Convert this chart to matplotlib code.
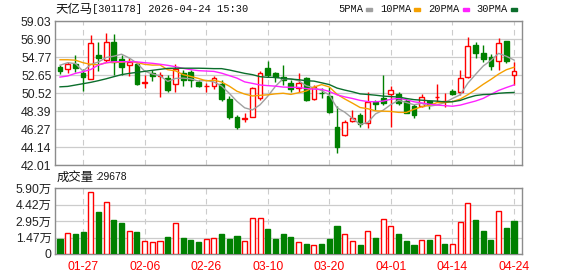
import matplotlib
matplotlib.use('Agg')
import matplotlib.pyplot as plt
from matplotlib.patches import Rectangle
import numpy as np
import pandas as pd

plt.rcParams['font.family'] = ['Liberation Sans', 'Noto Sans CJK SC']

################################################################################
# data
################################################################################

stock_name = '天亿马'
stock_info = '[301178] 2026-04-24 15:30'
date_labels = ['01-27', '02-06', '02-26', '03-10', '03-20', '04-01', '04-14', '04-24']
date_idx = [3, 11, 19, 27, 35, 43, 51, 59]

opens = [53.56, 53.36, 53.95, 52.84, 52.14, 55.01, 54.42, 56.59, 54.50, 53.83,
         53.91, 51.66, 52.84, 52.50, 52.33, 51.58, 52.84, 53.00, 51.82, 51.32,
         51.35, 51.58, 49.81, 47.64, 47.49, 47.72, 49.89, 53.51, 52.84, 52.37,
         51.74, 51.07, 52.25, 49.77, 50.56, 50.17, 46.54, 45.56, 47.21, 47.92,
         46.94, 49.40, 49.89, 50.40, 50.40, 49.55, 48.98, 48.98, 49.57, 50.05,
         49.55, 50.76, 50.68, 52.45, 56.19, 55.21, 54.81, 54.34, 56.67, 52.61]
highs = [53.83, 54.22, 55.01, 53.32, 57.38, 56.59, 57.57, 57.49, 55.01, 54.62,
         54.22, 52.65, 53.24, 53.04, 52.65, 53.95, 53.24, 53.24, 52.06, 51.66,
         52.53, 52.06, 50.17, 47.92, 48.12, 51.27, 53.16, 54.34, 53.04, 53.83,
         52.06, 52.84, 52.45, 51.47, 51.07, 51.27, 48.98, 47.33, 48.51, 48.12,
         50.68, 49.69, 52.65, 51.35, 50.68, 49.80, 49.22, 50.40, 49.69, 51.58,
         50.56, 50.95, 53.24, 57.10, 56.59, 56.19, 55.13, 56.98, 56.67, 54.22]
lows = [52.80, 52.85, 53.04, 50.80, 52.14, 53.16, 54.22, 52.65, 52.65, 52.53,
        51.47, 51.07, 51.98, 50.09, 50.68, 50.68, 51.35, 51.27, 51.27, 50.68,
        50.95, 49.61, 47.41, 46.23, 47.13, 47.64, 49.69, 52.45, 51.86, 51.47,
        50.68, 50.68, 49.61, 49.69, 49.89, 48.20, 43.47, 45.44, 47.13, 46.54,
        46.34, 48.51, 49.10, 46.54, 49.10, 48.10, 47.53, 48.90, 48.59, 49.50,
        48.90, 50.28, 50.28, 52.25, 54.62, 54.22, 53.24, 53.24, 54.03, 51.47]
closes = [53.16, 53.95, 53.44, 52.45, 56.47, 54.62, 56.59, 54.22, 53.63, 54.22,
          51.58, 51.86, 52.53, 52.60, 50.87, 53.32, 52.10, 52.02, 51.30, 51.36,
          52.33, 49.77, 47.64, 46.54, 47.56, 51.07, 52.84, 52.65, 52.45, 52.06,
          50.95, 51.74, 49.69, 51.19, 50.48, 48.31, 44.18, 47.13, 47.52, 46.86,
          49.50, 49.25, 49.30, 50.87, 49.38, 48.20, 47.92, 50.09, 49.22, 50.09,
          49.60, 50.36, 52.25, 56.07, 55.29, 54.58, 53.71, 56.39, 54.34, 53.08]
volumes = [13500, 18500, 17900, 19700, 55600, 37400, 46800, 30300, 27600, 20300,
           19700, 11800, 10900, 11800, 15300, 27400, 14400, 12600, 10300, 13200,
           14100, 18200, 13500, 16500, 11800, 31800, 31800, 22400, 13500, 18200,
           15300, 10900, 9100, 8000, 9100, 13500, 25000, 17600, 11500, 8200,
           21000, 14100, 31000, 25000, 18000, 11800, 8200, 12400, 12600, 16800,
           9100, 8800, 28200, 45900, 30300, 20300, 12600, 38800, 23200, 29678]

# moving average values before a full window exists
ma5_head = [53.80, 54.10, 54.00, 53.10]
ma10_head = [54.45, 54.45, 54.40, 54.10, 53.90, 53.85, 54.10, 54.15, 54.15]
ma20_head = [52.40, 52.53, 52.84, 53.04, 53.30, 53.83, 54.10, 54.22, 54.22, 54.22,
             54.20, 54.10, 54.03, 53.92, 53.79, 53.63, 53.43, 53.28, 53.16]
ma30_head = [51.25, 51.30, 51.46, 51.62, 51.78, 51.98, 52.20, 52.45, 52.69, 52.84,
             52.96, 53.08, 53.20, 53.32, 53.43, 53.45, 53.45, 53.45, 53.45, 53.43,
             53.40, 53.40, 53.24, 53.04, 52.84, 52.69, 52.45, 52.37, 52.37]

price_min, price_max = 42.01, 59.03
vol_max = 58980

################################################################################

def moving_average(n, head):
    ma = pd.Series(closes).rolling(n).mean().to_numpy()
    ma[:len(head)] = head
    return ma

o = np.array(opens)
c = np.array(closes)
h = np.array(highs)
l = np.array(lows)
x = np.arange(len(c))

up = c >= o
cand_col = np.where(up, '#ff0000', '#008000')
prev = np.r_[o[0], c[:-1]]
vol_up = c >= prev
vol_col = np.where(vol_up, '#ff0000', '#008000')

W, H = 578, 276
fig = plt.figure(figsize=(W / 100, H / 100), dpi=100)
ax = fig.add_axes([55 / W, 1 - 165 / H, 467 / W, 144 / H])
axv = fig.add_axes([55 / W, 1 - 254 / H, 467 / W, 66 / H])

for a in (ax, axv):
    a.set_xlim(-0.65, len(c) + 0.04)
    a.set_xticks(date_idx)
    a.xaxis.grid(True, color='#cccccc', lw=0.8, ls=(0, (5, 4)))
    a.yaxis.grid(True, color='#cccccc', lw=0.9)
    a.set_axisbelow(True)
    a.tick_params(length=0, labelsize=8.8, colors='#222222')
    for s in a.spines.values():
        s.set_color('#8c8c8c')
        s.set_linewidth(1)

# candles
ax.vlines(x, l, h, colors=cand_col, lw=1, zorder=2)
body_h = np.maximum(np.abs(c - o), 0.03)
ax.bar(x, body_h, 0.62, bottom=np.minimum(o, c), facecolor=np.where(up, 'white', '#008000'),
       edgecolor=cand_col, linewidth=1, zorder=3)

ma_list = [('5PMA', 5, ma5_head, '#a0a0a0'),
           ('10PMA', 10, ma10_head, '#f5a000'),
           ('20PMA', 20, ma20_head, '#ff22ff'),
           ('30PMA', 30, ma30_head, '#0b6e2c')]
for name, n, head, col in ma_list:
    ax.plot(x, moving_average(n, head), color=col, lw=1, zorder=4)

ax.set_ylim(price_min, price_max)
ax.set_yticks(np.linspace(price_min, price_max, 9))
ax.set_yticklabels(['%.2f' % v for v in np.linspace(price_min, price_max, 9)])
ax.set_xticklabels([])
ax.tick_params(axis='y', pad=2.5)

# volume
axv.bar(x, volumes, 0.66, facecolor=np.where(vol_up, 'white', '#008000'),
        edgecolor=vol_col, linewidth=1, zorder=3)
axv.set_ylim(0, vol_max)
vt = np.linspace(0, vol_max, 5)
axv.set_yticks(vt)
axv.set_yticklabels(['0' if v == 0 else '%.2f万' % (v / 1e4) for v in vt])
axv.set_xticklabels(date_labels)
axv.tick_params(axis='x', colors='#ff0000', pad=5)
axv.tick_params(axis='y', pad=2.5)

# title, legend, volume caption
fig.text(55 / W, 1 - 9 / H, stock_name, fontsize=8.9, va='center', color='#111111',
         family=['Noto Sans CJK SC'])
fig.text(92 / W, 1 - 9 / H, stock_info, fontsize=7.45, va='center', color='#111111',
         family=['Liberation Mono'])

renderer = fig.canvas.get_renderer()
lx = 338
for name, n, head, col in ma_list:
    t = fig.text(lx / W, 1 - 8.5 / H, name, fontsize=7.45, va='center', color='#111111',
                 family=['Liberation Mono'])
    tw = t.get_window_extent(renderer).width
    fig.patches.append(Rectangle(((lx + tw + 3) / W, 1 - 11 / H), 6 / W, 3 / H,
                                 transform=fig.transFigure, color=col))
    lx += tw + 17

fig.text(57 / W, 1 - 177 / H, '成交量', fontsize=8.9, va='center',
         color='#111111', family=['Noto Sans CJK SC'])
fig.text(95 / W, 1 - 177 / H, ':%d' % volumes[-1], fontsize=7.4, va='center',
         color='#111111')

fig.savefig('out.png', dpi=100)
